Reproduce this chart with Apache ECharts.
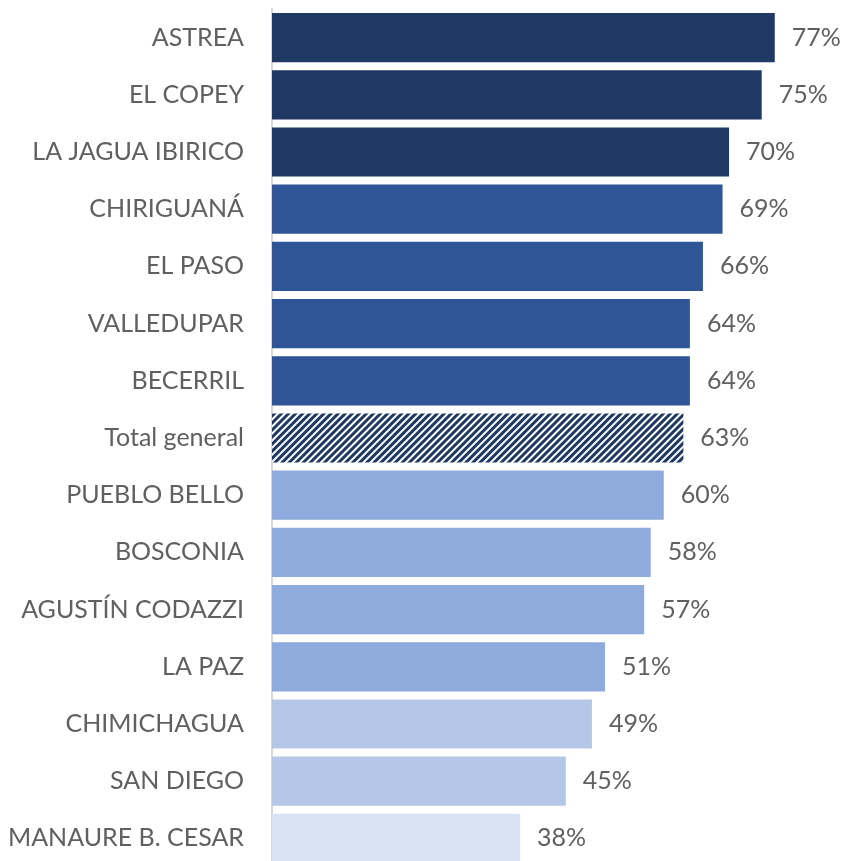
<!DOCTYPE html>
<html>
<head>
<meta charset="utf-8">
<script src="https://cdn.jsdelivr.net/npm/echarts@6/dist/echarts.min.js"></script>
<style>
  html, body { margin: 0; padding: 0; background: #fff; }
  #chart { width: 841px; height: 861px; }
</style>
</head>
<body>
<div id="chart"></div>
<script>
// municipios, de arriba hacia abajo
const municipios = ['ASTREA', 'EL COPEY', 'LA JAGUA IBIRICO', 'CHIRIGUANÁ', 'EL PASO', 'VALLEDUPAR', 'BECERRIL',
  'Total general', 'PUEBLO BELLO', 'BOSCONIA', 'AGUSTÍN CODAZZI', 'LA PAZ', 'CHIMICHAGUA', 'SAN DIEGO', 'MANAURE B. CESAR']
const porcentajes = [77, 75, 70, 69, 66, 64, 64, 63, 60, 58, 57, 51, 49, 45, 38]

// colores por barra (el total va con rayado)
const colores = ['#203864', '#203864', '#203864', '#2F5597', '#2F5597', '#2F5597', '#2F5597',
  'total', '#8FAADC', '#8FAADC', '#8FAADC', '#8FAADC', '#B4C7E7', '#B4C7E7', '#DAE3F3']

const fuente = 'Lato, "Open Sans", sans-serif'

let chart = echarts.init(document.getElementById('chart'), null, { renderer: 'canvas' })

let seriesData = porcentajes.map((v, i) => {
  if (colores[i] === 'total') {
    return {
      value: v,
      itemStyle: {
        color: '#ffffff',
        decal: {
          symbol: 'rect',
          color: '#203864',
          dashArrayX: [[1, 0]],
          dashArrayY: [3, 2],
          rotation: -Math.PI / 4,
          symbolSize: 1
        }
      }
    }
  }
  return { value: v, itemStyle: { color: colores[i] } }
})

let option = {
  animation: false,
  backgroundColor: '#ffffff',
  grid: {
    left: 272,
    right: 14,
    top: 9,
    height: 858,
    containLabel: false,
    outerBoundsMode: 'none'
  },
  xAxis: {
    type: 'value',
    min: 0,
    max: 85,
    show: false,
    splitLine: { show: false }
  },
  yAxis: {
    type: 'category',
    inverse: true,
    data: municipios,
    axisLine: { show: true, lineStyle: { color: '#d9d9d9', width: 2 } },
    axisTick: { show: false },
    axisLabel: {
      margin: 28,
      color: '#606060',
      fontSize: 25,
      fontFamily: fuente
    }
  },
  series: [{
    type: 'bar',
    data: seriesData,
    barCategoryGap: '14%',
    label: {
      show: true,
      position: 'right',
      distance: 17,
      formatter: p => p.value + '%',
      color: '#606060',
      fontSize: 25,
      fontFamily: fuente
    }
  }]
}

chart.setOption(option)
window.addEventListener('resize', () => chart.resize())
</script>
</body>
</html>
